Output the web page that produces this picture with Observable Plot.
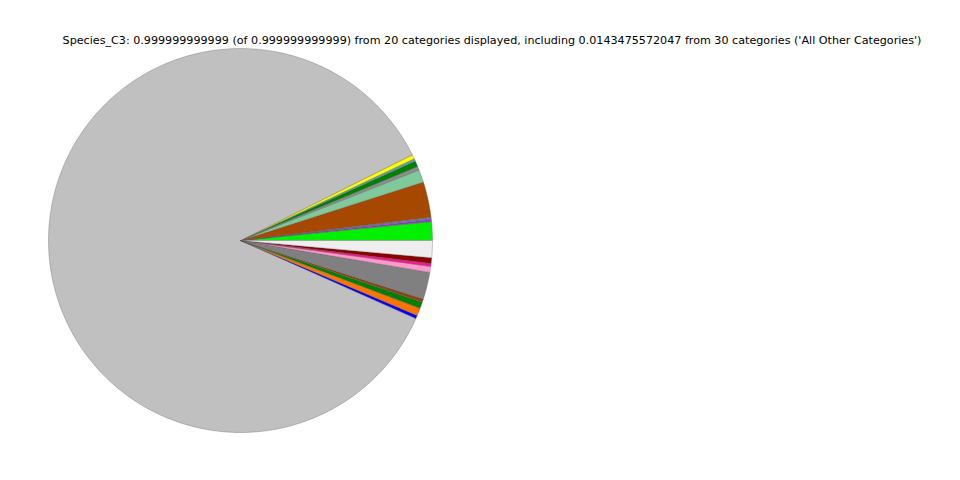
<!DOCTYPE html>
<html>
<head>
<meta charset="utf-8">
<script src="https://cdn.jsdelivr.net/npm/d3@7"></script>
<script src="https://cdn.jsdelivr.net/npm/@observablehq/plot@0.6"></script>
<style>
  html, body { margin: 0; padding: 0; background: #fff; }
  #wrap { position: relative; width: 960px; height: 480px; }
  #title { position: absolute; left: 0; width: 984px; top: 34px; text-align: center;
           font-family: "DejaVu Sans", sans-serif; font-size: 11.15px; color: #000; white-space: nowrap; }
</style>
</head>
<body>
<div id="wrap">
  <div id="title">Species_C3: 0.999999999999 (of 0.999999999999) from 20 categories displayed, including 0.0143475572047 from 30 categories ('All Other Categories')</div>
</div>
<script>
// Slices in counter-clockwise order starting at 3 o'clock
const categories = [
  "Cat 1", "Cat 2", "Cat 3", "Cat 4", "Cat 5", "Cat 6", "Cat 7", "Cat 8", "Cat 9", "Cat 10",
  "Cat 11", "Cat 12", "Cat 13", "Cat 14", "Cat 15", "Cat 16", "Cat 17", "Cat 18", "Cat 19",
  "All Other Categories"
];
const values = [
  0.0158, 0.0017, 0.0009, 0.0009, 0.0300, 0.0106, 0.0031, 0.0050, 0.0020, 0.0036,
  0.8597, 0.0028, 0.0064, 0.0053, 0.0028, 0.0228, 0.0050, 0.0025, 0.0047, 0.0143475572047
];
const colors = [
  "#00f000", "#9932cc", "#7b68ee", "#6a86b0", "#a64800", "#7fc99a", "#8c8c8c", "#008000", "#5fa0a0", "#ffff00",
  "#c0c0c0", "#0000ff", "#ff7300", "#008000", "#8b4513", "#808080", "#ff99cc", "#ff1493", "#8b0000", "#eeeeee"
];

// Build slice outlines (unit circle coordinates) from the values
const total = d3.sum(values);
const pts = [];
let start = 0;
values.forEach((v, i) => {
  const a0 = start, a1 = start + (v / total) * 2 * Math.PI;
  start = a1;
  pts.push({id: i, x: 0, y: 0, color: colors[i], name: categories[i]});
  const n = Math.max(2, Math.ceil((a1 - a0) / (Math.PI / 360)));
  for (let k = 0; k <= n; k++) {
    const a = a0 + (a1 - a0) * k / n;
    pts.push({id: i, x: Math.cos(a), y: Math.sin(a), color: colors[i], name: categories[i]});
  }
  pts.push({id: i, x: 0, y: 0, color: colors[i], name: categories[i]});
});

const chart = Plot.plot({
  width: 960,
  height: 480,
  marginLeft: 48,
  marginRight: 528,
  marginTop: 48,
  marginBottom: 48,
  x: {domain: [-1, 1], axis: null},
  y: {domain: [-1, 1], axis: null},
  color: {type: "identity"},
  style: {background: "transparent"},
  marks: [
    Plot.line(pts, {x: "x", y: "y", z: "id", fill: "color", stroke: "#555", strokeWidth: 0.4, strokeOpacity: 0.8, curve: "linear"})
  ]
});
document.getElementById("wrap").insertBefore(chart, document.getElementById("title"));
</script>
</body>
</html>
